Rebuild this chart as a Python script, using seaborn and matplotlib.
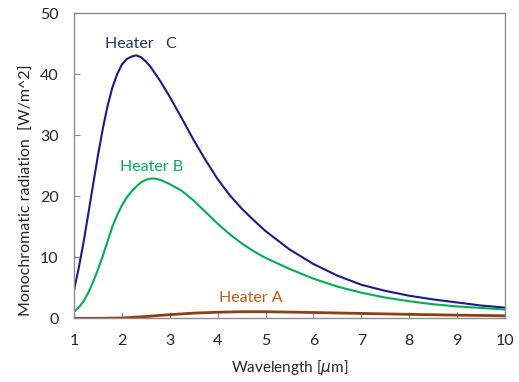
import pandas as pd
import matplotlib
matplotlib.use("Agg")
import matplotlib.pyplot as plt
import seaborn as sns

# --- DADOS ---
wl_c = [1.0, 1.1, 1.2, 1.3, 1.4, 1.5, 1.6, 1.7, 1.8, 1.9, 2.0, 2.1, 2.2, 2.3, 2.4, 2.5, 2.6, 2.8,
        3.0, 3.25, 3.5, 3.75, 4.0, 4.25, 4.5, 4.75, 5.0, 5.5, 6.0, 6.5, 7.0, 7.5, 8.0, 8.5, 9.0, 9.5, 10.0]
heater_c = [4.6, 8.3, 12.5, 17.2, 22.0, 26.7, 31.0, 34.8, 37.8, 40.0, 41.6, 42.5, 42.9, 43.1, 42.8, 42.1, 41.2, 38.9,
            36.3, 32.8, 29.2, 25.9, 22.8, 20.2, 18.0, 16.1, 14.3, 11.3, 8.9, 7.0, 5.5, 4.5, 3.7, 3.1, 2.6, 2.1, 1.75]

wl_b = [1.0, 1.1, 1.2, 1.3, 1.4, 1.5, 1.6, 1.7, 1.8, 1.9, 2.0, 2.1, 2.2, 2.3, 2.4, 2.5, 2.6, 2.7, 2.8,
        3.0, 3.25, 3.5, 3.75, 4.0, 4.25, 4.5, 4.75, 5.0, 5.5, 6.0, 6.5, 7.0, 7.5, 8.0, 8.5, 9.0, 9.5, 10.0]
heater_b = [1.1, 1.8, 2.8, 4.2, 6.0, 8.0, 10.2, 12.6, 15.0, 16.9, 18.5, 19.8, 20.8, 21.6, 22.3, 22.7, 22.9, 22.9, 22.7,
            22.0, 20.9, 19.3, 17.4, 15.5, 13.8, 12.3, 11.0, 9.9, 8.1, 6.5, 5.2, 4.2, 3.4, 2.8, 2.3, 1.95, 1.7, 1.45]

wl_a = [1.0, 1.5, 2.0, 2.5, 3.0, 3.5, 4.0, 4.5, 5.0, 5.5, 6.0, 7.0, 8.0, 9.0, 10.0]
heater_a = [0.0, 0.0, 0.05, 0.3, 0.6, 0.85, 1.0, 1.08, 1.08, 1.02, 0.95, 0.8, 0.65, 0.52, 0.42]

x_ticks = [1, 2, 3, 4, 5, 6, 7, 8, 9, 10]
y_ticks = [0, 10, 20, 30, 40, 50]

# cores
COR_C, COR_B, COR_A = "#1a1a8c", "#00b050", "#8b3f12"
COR_TXT_C, COR_TXT_A = "#203864", "#c55a11"

sns.set_style("white")
plt.rcParams['font.family'] = ['Lato', 'DejaVu Sans']

fig = plt.figure(figsize=(5.19, 3.82), dpi=100)
ax = fig.add_axes([0.1426, 0.1667, 0.8304, 0.7985])

sns.lineplot(x=wl_c, y=heater_c, ax=ax, color=COR_C, linewidth=1.5)
sns.lineplot(x=wl_b, y=heater_b, ax=ax, color=COR_B, linewidth=1.5)
sns.lineplot(x=wl_a, y=heater_a, ax=ax, color=COR_A, linewidth=2.0)

ax.set_xlim(1, 10)
ax.set_ylim(0, 50)
ax.set_xticks(x_ticks)
ax.set_yticks(y_ticks)
ax.tick_params(direction='in', length=4, color='#8c8c8c', labelsize=11.5,
               bottom=True, left=True)
ax.tick_params(axis='x', pad=11)
ax.tick_params(axis='y', pad=11)
for sp in ax.spines.values():
    sp.set_color('#8c8c8c')
    sp.set_linewidth(1.0)

ax.set_xlabel(r'Wavelength [$\mu$m]', fontsize=11)
ax.set_ylabel('Monochromatic radiation  [W/m^2]', fontsize=11.5)
ax.yaxis.set_label_coords(-0.093, 0.42)
ax.xaxis.set_label_coords(0.5, -0.131)

# rótulos das curvas
ax.text(2.4, 44.9, 'Heater   C', color=COR_TXT_C, fontsize=11.5, ha='center', va='center')
ax.text(2.62, 24.8, 'Heater B', color=COR_B, fontsize=11.5, ha='center', va='center')
ax.text(4.69, 3.3, 'Heater A', color=COR_TXT_A, fontsize=11.5, ha='center', va='center')

fig.savefig('out.png', dpi=100)
